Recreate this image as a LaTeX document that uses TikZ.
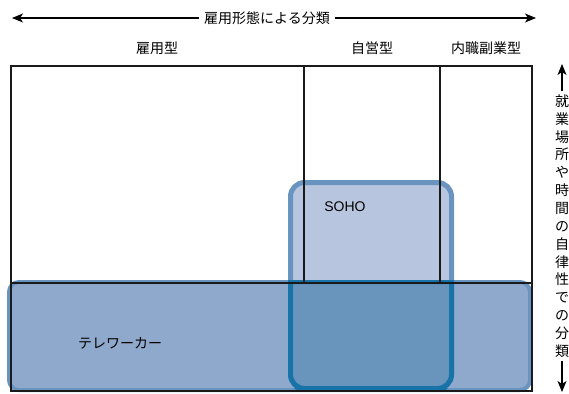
\documentclass[tikz,border=0pt]{standalone}
\usepackage{fontspec}
\setmainfont{Liberation Sans}
\newfontfamily\jp{Noto Sans CJK JP}
\usetikzlibrary{arrows.meta}
\definecolor{teleFill}{HTML}{8FA9CC}
\definecolor{sohoFill}{HTML}{B7C6DE}
\definecolor{overFill}{HTML}{6994BC}
\definecolor{edgeLight}{HTML}{6A94C0}
\definecolor{edgeDark}{HTML}{1874A8}
\definecolor{gridline}{HTML}{1A1A1A}
\tikzset{
  jptext/.style={font=\jp\fontsize{14}{17}\selectfont, text=black, inner sep=0pt},
  arr/.style={draw=black, line width=1.1pt, -{Stealth[length=11pt,width=9pt,inset=3pt]}},
  gridl/.style={draw=gridline, line width=1.3pt},
  telebox/.style={rounded corners=10pt},
  sohobox/.style={rounded corners=14pt}
}
\begin{document}
\begin{tikzpicture}[x=1pt,y=-1pt]
\useasboundingbox (0,0) rectangle (569,393);
\def\telepath{(9,282) rectangle (530,390)}
\def\sohopath{(290.5,182.5) rectangle (451.5,388.5)}
% fills
\fill[teleFill, telebox] (9,282) rectangle (530,390);
\fill[sohoFill, sohobox] (290.5,182.5) rectangle (451.5,388.5);
\begin{scope}
  \clip[telebox] (9,282) rectangle (530,390);
  \fill[overFill, sohobox] (290.5,182.5) rectangle (451.5,388.5);
\end{scope}
% borders
\draw[edgeLight, line width=4pt, telebox] (9,282) rectangle (530,390);
\draw[edgeLight, line width=5pt, sohobox] (290.5,182.5) rectangle (451.5,388.5);
\begin{scope}
  \clip[telebox] (7,280) rectangle (532,392);
  \draw[edgeDark, line width=5pt, sohobox] (290.5,182.5) rectangle (451.5,388.5);
\end{scope}
\begin{scope}
  \clip[sohobox] (288,180) rectangle (454,391);
  \draw[edgeDark, line width=4pt, telebox] (9,282) rectangle (530,390);
\end{scope}
% grid
\draw[gridl] (11,66) rectangle (532,391);
\draw[gridl] (11,283) -- (532,283);
\draw[gridl] (304,66) -- (304,283);
\draw[gridl] (440,66) -- (440,283);
% labels
\node[jptext, inner sep=5pt] (top) at (267,18) {雇用形態による分類};
\coordinate (tl) at (12,18);
\coordinate (tr) at (536,18);
\draw[arr] (top.west) -- (tl);
\draw[arr] (top.east) -- (tr);
\node[jptext] (h1) at (157,48) {雇用型};
\node[jptext] (h2) at (372,48) {自営型};
\node[jptext] (h3) at (486,48) {内職副業型};
\node[jptext, inner sep=3pt, align=center, font=\jp\fontsize{14}{17.86}\selectfont] (vlab) at (562,226)
  {就\\業\\場\\所\\や\\時\\間\\の\\自\\律\\性\\で\\の\\分\\類};
\coordinate (vt) at (562,64);
\coordinate (vb) at (562,392);
\draw[arr] (vlab.north) -- (vt);
\draw[arr] (vlab.south) -- (vb);
\node[font=\fontsize{14}{17}\selectfont, inner sep=0pt] (soho) at (345,207) {SOHO};
\node[jptext] (tele) at (120,343) {テレワーカー};
\end{tikzpicture}
\end{document}
